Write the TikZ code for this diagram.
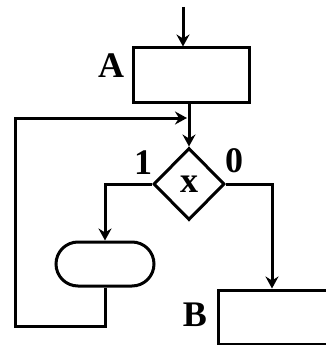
\documentclass[tikz,border=0pt]{standalone}
\usepackage{fontspec}
\setmainfont{Liberation Serif}
\usetikzlibrary{arrows.meta,shapes.geometric,shapes.misc}
\newcommand{\flowfont}{\fontsize{36}{40}\selectfont\bfseries}
\tikzset{
  flowline/.style={draw=black,line width=3pt},
  flowarrow/.style={flowline,-{Stealth[length=12pt,width=13pt,inset=4pt]}},
  procbox/.style={rectangle,flowline,minimum width=116pt,minimum height=54pt,inner sep=0pt},
  testbox/.style={diamond,flowline,minimum width=71pt,minimum height=72pt,inner sep=0pt,font=\flowfont},
  termbox/.style={rounded rectangle,flowline,minimum width=98pt,minimum height=44pt,inner sep=0pt},
  flowlabel/.style={inner sep=0pt,font=\flowfont}
}
\begin{document}
\begin{tikzpicture}[x=1pt,y=-1pt]
\useasboundingbox (0,0) rectangle (326,345);
\clip (0,0) rectangle (326,345);
% ---- blocks ----
\node[procbox] (A) at (191,75) {};
\node[testbox] (X) at (189,184) {x};
\node[termbox] (T) at (105,264) {};
\node[procbox,minimum width=124pt] (B) at (280,317) {};
% ---- labels ----
\node[flowlabel] (lA) at (111,66) {A};
\node[flowlabel] (lB) at (195,315) {B};
\node[flowlabel] (l1) at (143,163) {1};
\node[flowlabel] (l0) at (234,161) {0};
% ---- bends ----
\coordinate (entry) at (183,7);
\coordinate (join) at (189,118);
\coordinate (rbend) at (272,184);
\coordinate (lbot) at (15,326);
% ---- connectors ----
\draw[flowarrow] (entry) -- (entry |- A.north);
\draw[flowarrow] (A.south -| X.north) -- (X.north);
\draw[flowarrow] (X.west) -| (T.north);
\draw[flowarrow] (X.east) -- (rbend) -- (rbend |- B.north);
\draw[flowarrow,shorten >=2pt] (T.south) |- (lbot) |- (join);
\end{tikzpicture}
\end{document}
